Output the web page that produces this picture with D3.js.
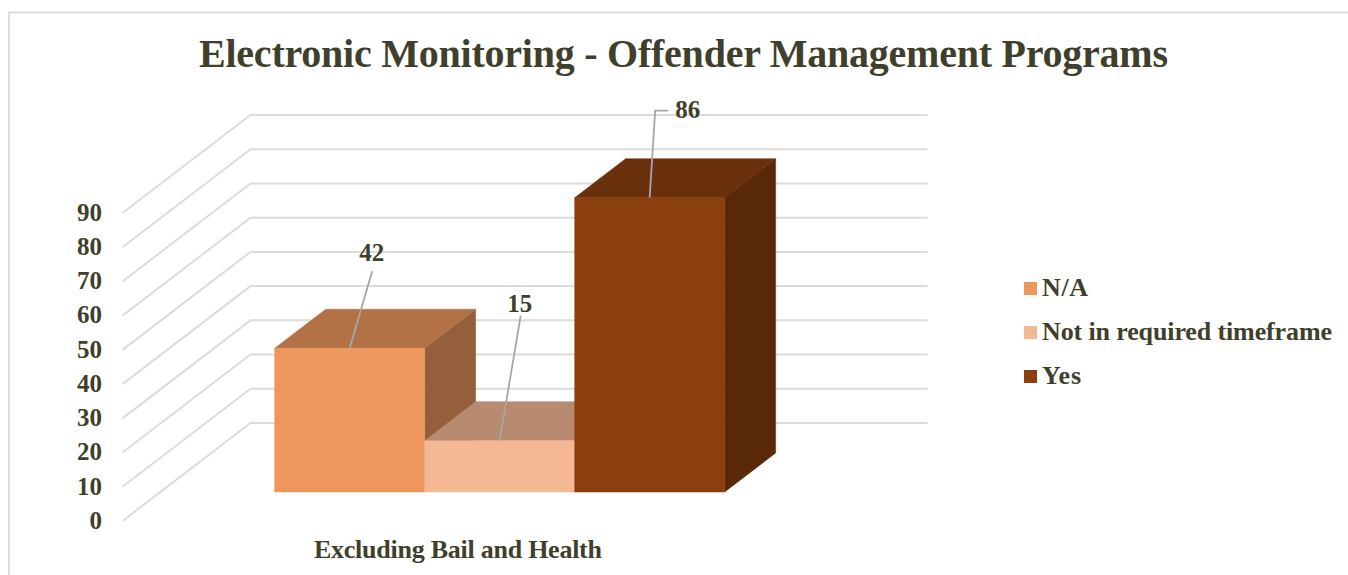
<!DOCTYPE html>
<html>
<head>
<meta charset="utf-8">
<script src="https://cdn.jsdelivr.net/npm/d3@7"></script>
<style>
  html, body { margin: 0; padding: 0; background: #fff; overflow: hidden; }
  text { font-family: "Liberation Serif", serif; font-weight: 700; fill: #3f3f2b; }
</style>
</head>
<body>
<svg id="chart" width="1348" height="575"></svg>
<script>
// Chart content
const chartTitle = "Electronic Monitoring - Offender Management Programs";
const categoryLabel = "Excluding Bail and Health";
const seriesNames = ["N/A", "Not in required timeframe", "Yes"];
const seriesValues = [42, 15, 86];
const seriesColors = ["#ED965D", "#F4B894", "#8B3F0F"];
const axisTicks = [0, 10, 20, 30, 40, 50, 60, 70, 80, 90];

const svg = d3.select("#chart");

// Oblique 3D projection: value lifts a point, depth slides it back and to the right
const y = d3.scaleLinear().domain([0, 90]).range([521, 213]);
const depthX = d3.scaleLinear().domain([0, 1]).range([0, 128]);
const depthY = d3.scaleLinear().domain([0, 1]).range([0, -98]);
const project = (px, value, depth) => [px + depthX(depth), y(value) + depthY(depth)];

// Bars sit in a band across the floor, measured on the floor's front edge
const barDepthStart = 0.296, barDepthEnd = 0.694;
const x = d3.scaleBand().domain(seriesNames).range([236.8, 686.8]).paddingInner(0);
const floorFrontLeft = 122.5, floorFrontRight = 799.5;

const line = d3.line();
const shade = (c, k) => { const r = d3.rgb(c); return d3.rgb(r.r * k, r.g * k, r.b * k).formatHex(); };

// Chart frame
svg.append("path").attr("d", "M9,575V12.5H1348")
  .attr("fill", "none").attr("stroke", "#dcdcdc").attr("stroke-width", 2);

// Gridlines on side wall and back wall
svg.append("g").selectAll("path").data(axisTicks).join("path")
  .attr("d", v => line([
    project(floorFrontLeft, v, 0),
    project(floorFrontLeft, v, 1),
    project(floorFrontRight, v, 1)
  ]))
  .attr("fill", "none").attr("stroke", "#dcdcdc").attr("stroke-width", 2);

// Value axis labels
const axis = d3.axisLeft(y).tickValues(axisTicks).tickSize(0).tickPadding(20.5);
const axisG = svg.append("g").attr("transform", `translate(${floorFrontLeft},0)`).call(axis);
axisG.select(".domain").remove();
axisG.selectAll("text").style("font-size", "25px").attr("fill", null).attr("dy", "0.29em");

// Bars, left to right, so each later bar overlaps the one before it
const bars = svg.append("g").selectAll("g")
  .data(seriesNames.map((name, i) => ({ name, value: seriesValues[i], color: seriesColors[i] })))
  .join("g");

bars.each(function (d) {
  const g = d3.select(this);
  const x0 = x(d.name), x1 = x0 + x.bandwidth();
  const a = barDepthStart, b = barDepthEnd;
  const faces = [
    { pts: [project(x1, 0, a), project(x1, 0, b), project(x1, d.value, b), project(x1, d.value, a)], k: 0.63 },
    { pts: [project(x0, d.value, a), project(x1, d.value, a), project(x1, d.value, b), project(x0, d.value, b)], k: 0.755 },
    { pts: [project(x0, 0, a), project(x1, 0, a), project(x1, d.value, a), project(x0, d.value, a)], k: 1 }
  ];
  faces.forEach(f => {
    const col = shade(d.color, f.k);
    g.append("path").attr("d", line(f.pts) + "Z").attr("fill", col)
      .attr("stroke", col).attr("stroke-width", 0.5);
  });
});

// Data labels with leader lines from each bar's top front edge
const labelOffsets = [
  { lx: 22.5, ly: -77, tx: 22, ty: -95 },
  { lx: 21, ly: -125, tx: 20, ty: -136.5 },
  { lx: 5.5, ly: -87, elbow: 13, tx: 38, ty: -87 }
];
const labels = svg.append("g");
seriesNames.forEach((name, i) => {
  const v = seriesValues[i];
  const [px, py] = project(x(name) + x.bandwidth() / 2, v, barDepthStart);
  const o = labelOffsets[i];
  const pts = [[px, py], [px + o.lx, py + o.ly]];
  if (o.elbow) pts.push([px + o.lx + o.elbow, py + o.ly]);
  labels.append("path").attr("d", line(pts)).attr("fill", "none")
    .attr("stroke", "#a6a6a6").attr("stroke-width", 1.8);
  labels.append("text").attr("x", px + o.tx).attr("y", py + o.ty)
    .attr("dy", "0.3em").attr("text-anchor", "middle")
    .style("font-size", "25px").text(v);
});

// Title
svg.append("text").attr("x", 683.5).attr("y", 67).attr("text-anchor", "middle")
  .attr("textLength", 969).attr("lengthAdjust", "spacing")
  .style("font-size", "40px").text(chartTitle);

// Category label
svg.append("text").attr("x", 458).attr("y", 558).attr("text-anchor", "middle")
  .attr("textLength", 288).attr("lengthAdjust", "spacing")
  .style("font-size", "26px").text(categoryLabel);

// Legend
const legendY = d3.scalePoint().domain(seriesNames).range([288.5, 376.5]);
const legendWidths = [46, 290, 39];
const legend = svg.append("g").selectAll("g").data(seriesNames).join("g")
  .attr("transform", n => `translate(0,${legendY(n)})`);
legend.append("rect").attr("x", 1024).attr("y", -6.5).attr("width", 13).attr("height", 13)
  .attr("fill", (n, i) => seriesColors[i]);
legend.append("text").attr("x", 1042).attr("y", 7.5)
  .attr("textLength", (n, i) => legendWidths[i]).attr("lengthAdjust", "spacing")
  .style("font-size", "26px").text(n => n);
</script>
</body>
</html>
